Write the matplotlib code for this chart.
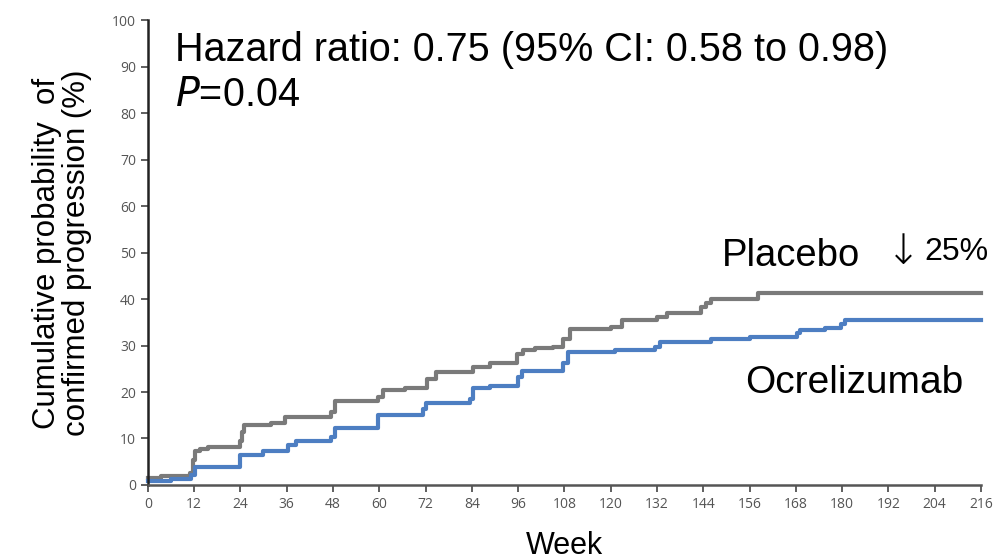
import matplotlib
matplotlib.use("Agg")
import matplotlib.pyplot as plt

# Kaplan-Meier style step data (week, cumulative %)
placebo_weeks = [0, 3.5, 11, 11.7, 12.2, 13.5, 15.6, 24, 24.3, 24.9, 32, 35.5, 47.6, 48.5,
                 59.7, 61, 66.6, 72.3, 74.8, 84.3, 88.7, 95.6, 97.3, 100.3, 105.1, 107.7,
                 109.4, 120.2, 122.8, 131.9, 134.5, 143.5, 144.8, 146.1, 158.2, 216]
placebo_pct = [1.4, 1.9, 2.5, 5.4, 7.2, 7.7, 8.2, 9.5, 11.5, 12.9, 13.4, 14.6, 15.8, 18.1,
               19.0, 20.4, 20.8, 22.7, 24.2, 25.4, 26.2, 28.2, 29.0, 29.4, 29.7, 31.3,
               33.5, 34.0, 35.5, 36.1, 37.1, 38.3, 39.2, 40.1, 41.2, 41.2]

ocre_weeks = [0, 2, 6.1, 11.3, 12.2, 23.9, 29.9, 36.4, 38.5, 47.6, 48.5, 59.7, 71.4, 72,
              83.5, 84.2, 88.7, 96, 96.9, 107.7, 109, 121, 131.5, 132.7, 146.1, 156,
              168.2, 169, 175.5, 179.8, 180.7, 216]
ocre_pct = [0.8, 0.9, 1.3, 2.1, 3.8, 6.5, 7.2, 8.7, 9.5, 10.4, 12.2, 15.0, 16.3, 17.7,
            18.6, 20.8, 21.3, 23.3, 24.6, 26.2, 28.5, 29.0, 29.7, 30.8, 31.4, 31.9,
            32.6, 33.3, 33.7, 34.6, 35.5, 35.5]

xticks = list(range(0, 217, 12))
yticks = list(range(0, 101, 10))

fig = plt.figure(figsize=(9.99, 5.6), dpi=100)
ax = fig.add_axes([0.148, 0.134, 0.834, 0.830])

ax.step(placebo_weeks, placebo_pct, where="post", color="#7a7a7a", lw=3, clip_on=False)
ax.step(ocre_weeks, ocre_pct, where="post", color="#4d7ec2", lw=3, clip_on=False)

ax.set_xlim(0, 216)
ax.set_ylim(0, 100)
ax.set_xticks(xticks)
ax.set_yticks(yticks)
ax.tick_params(labelsize=10, labelcolor="#555555", color="#444444", length=5, width=1.2)
for lbl in ax.get_xticklabels() + ax.get_yticklabels():
    lbl.set_family("Open Sans")
ax.spines["top"].set_visible(False)
ax.spines["right"].set_visible(False)
ax.spines["left"].set_color("#222222")
ax.spines["left"].set_linewidth(1.8)
ax.spines["bottom"].set_color("#555555")
ax.spines["bottom"].set_linewidth(1.8)

big = dict(family="Liberation Sans", color="black")
fig.text(175 / 999, 1 - 61 / 560, "Hazard ratio: 0.75 (95% CI: 0.58 to 0.98)", fontsize=28.5, **big)
fig.text(175 / 999, 1 - 106 / 560, r"$\it{P}$=0.04", fontsize=28.5, **big)
fig.text(722 / 999, 1 - 266 / 560, "Placebo", fontsize=27.5, **big)
fig.text(903 / 999, 1 - 251 / 560, "\u2193", fontsize=30, ha="center", va="center",
         family="DejaVu Sans", fontweight="light")
fig.text(924 / 999, 1 - 260 / 560, "25%", fontsize=23, **big)
fig.text(745 / 999, 1 - 393 / 560, "Ocrelizumab", fontsize=28, **big)

fig.text(564 / 999, 1 - 554 / 560, "Week", fontsize=22, ha="center", va="baseline", **big)
fig.text(62 / 999, 1 - 253 / 560, "Cumulative probability  of\nconfirmed progression (%)",
         fontsize=22.5, rotation=90, ha="center", va="center", linespacing=1.0, **big)

fig.savefig("out.png", dpi=100)
